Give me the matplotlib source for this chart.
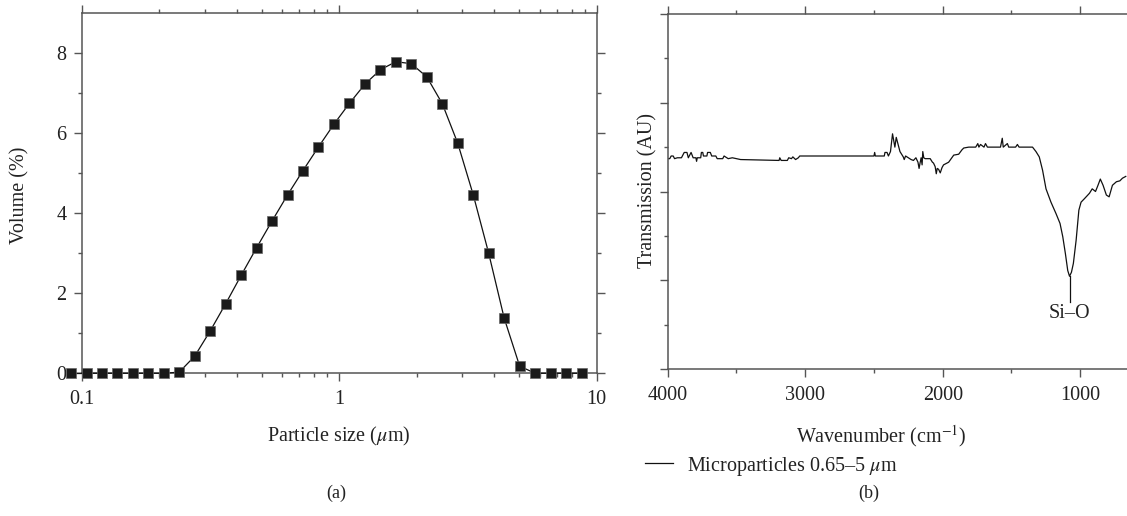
import matplotlib
matplotlib.use("Agg")
import matplotlib.pyplot as plt
from matplotlib.ticker import MultipleLocator, NullFormatter, FixedLocator

plt.rcParams['font.family'] = ['Liberation Serif', 'DejaVu Serif']
plt.rcParams['mathtext.fontset'] = 'stix'

# (a) particle size distribution
size_um = [0.0909, 0.1044, 0.1199, 0.1376, 0.158, 0.1815, 0.2084, 0.2393,
           0.2748, 0.3156, 0.3624, 0.4162, 0.4779, 0.5488, 0.6302, 0.7237,
           0.831, 0.9546, 1.096, 1.259, 1.446, 1.66, 1.906, 2.189,
           2.514, 2.887, 3.316, 3.807, 4.372, 5.021, 5.768, 6.622, 7.603, 8.733]
volume = [0, 0, 0, 0, 0, 0, 0, 0.03,
          0.43, 1.06, 1.74, 2.45, 3.14, 3.81, 4.46, 5.07,
          5.66, 6.23, 6.75, 7.23, 7.59, 7.79, 7.74, 7.41,
          6.74, 5.75, 4.46, 3.00, 1.38, 0.18, 0, 0, 0, 0]

# (b) FTIR spectrum, traced by eye
wavenumber = [4000, 3985, 3975, 3960, 3950, 3930, 3900, 3880, 3860, 3850,
              3830, 3815, 3795, 3790, 3785, 3760, 3755, 3745, 3740, 3715,
              3710, 3690, 3680, 3650, 3640, 3600, 3590, 3560, 3530, 3500,
              3470, 3200, 3190, 3185, 3175, 3130, 3120, 3100, 3090, 3070,
              3050, 3040, 2500, 2495, 2490, 2425, 2420, 2405, 2395, 2380,
              2365, 2348, 2338, 2311, 2287, 2280, 2270, 2250, 2230, 2213,
              2195, 2180, 2172, 2165, 2157, 2150, 2145, 2138, 2128, 2091,
              2075, 2067, 2055, 2047, 2040, 2030, 2018, 2005, 1994, 1957,
              1920, 1884, 1860, 1847, 1811, 1760, 1745, 1737, 1725, 1700,
              1689, 1675, 1640, 1615, 1580, 1567, 1560, 1530, 1520, 1500,
              1470, 1457, 1445, 1400, 1347, 1322, 1298, 1274, 1249, 1213,
              1176, 1147, 1127, 1108, 1091, 1078, 1064, 1050, 1030, 1010,
              994, 969, 933, 913, 889, 871, 854, 834, 810, 790,
              766, 737, 712, 693, 669]
transmission = [2.37, 2.37, 2.40, 2.40, 2.37, 2.38, 2.38, 2.44, 2.44, 2.38,
                2.44, 2.38, 2.38, 2.34, 2.38, 2.38, 2.44, 2.44, 2.40, 2.40,
                2.44, 2.44, 2.40, 2.40, 2.37, 2.37, 2.40, 2.37, 2.38, 2.37,
                2.36, 2.35, 2.35, 2.38, 2.35, 2.35, 2.38, 2.37, 2.39, 2.36,
                2.38, 2.40, 2.40, 2.44, 2.40, 2.40, 2.44, 2.44, 2.40, 2.45,
                2.65, 2.50, 2.61, 2.45, 2.39, 2.36, 2.40, 2.38, 2.36, 2.35,
                2.38, 2.33, 2.26, 2.32, 2.38, 2.30, 2.45, 2.38, 2.37, 2.37,
                2.33, 2.32, 2.28, 2.20, 2.26, 2.25, 2.21, 2.27, 2.30, 2.33,
                2.41, 2.42, 2.47, 2.49, 2.50, 2.50, 2.54, 2.50, 2.53, 2.50,
                2.54, 2.50, 2.50, 2.50, 2.50, 2.60, 2.50, 2.54, 2.50, 2.50,
                2.50, 2.53, 2.50, 2.50, 2.50, 2.45, 2.39, 2.24, 2.03, 1.88,
                1.75, 1.64, 1.49, 1.30, 1.11, 1.045, 1.09, 1.19, 1.45, 1.79,
                1.88, 1.92, 1.98, 2.03, 2.00, 2.07, 2.14, 2.07, 1.96, 1.94,
                2.07, 2.11, 2.12, 2.15, 2.17]

W, H = 1127, 516
FS = 14.5
fig = plt.figure(figsize=(W / 100, H / 100), dpi=100)

spine_col = '#555555'
text_col = '#222222'


def style_axes(ax):
    for s in ax.spines.values():
        s.set_color(spine_col)
        s.set_linewidth(1.1)
    ax.tick_params(which='both', direction='out', colors=spine_col,
                   labelcolor=text_col, labelsize=FS, width=1.0)
    ax.tick_params(which='major', length=6)
    ax.tick_params(which='minor', length=3)


# left panel
ax1 = fig.add_axes([81.7 / W, 1 - 373.3 / H, 515 / W, 360 / H])
ax1.plot(size_um, volume, color='#111111', lw=0.9, marker='s', ms=7,
         mfc='#1a1a1a', mec='#666666', mew=0.5, clip_on=False, zorder=3)
ax1.set_xscale('log')
ax1.set_xlim(0.1, 10)
ax1.set_ylim(0, 9)
ax1.set_xticks([0.1, 1, 10])
ax1.set_xticklabels(['0.1', '1', '10'])
ax1.yaxis.set_major_locator(FixedLocator([0, 2, 4, 6, 8]))
ax1.yaxis.set_minor_locator(FixedLocator([1, 3, 5, 7]))
style_axes(ax1)
ax1.tick_params(top=True, right=True, which='both')
ax1.tick_params(axis='x', pad=6)
ax1.tick_params(axis='y', pad=5)

# right panel
ax2 = fig.add_axes([667.7 / W, 1 - 369 / H, (W - 667.7) / W, 355 / H])
ax2.plot(wavenumber, transmission, color='#111111', lw=0.9,
         label=r'Microparticles 0.65–5 $\mu$m')
ax2.set_xlim(4000, 660)
ax2.set_ylim(0, 4)
ax2.xaxis.set_major_locator(FixedLocator([4000, 3000, 2000, 1000]))
ax2.xaxis.set_minor_locator(FixedLocator([3500, 2500, 1500]))
ax2.yaxis.set_major_locator(MultipleLocator(1))
ax2.yaxis.set_minor_locator(MultipleLocator(0.5))
ax2.yaxis.set_major_formatter(NullFormatter())
style_axes(ax2)
ax2.spines['right'].set_visible(False)
ax2.tick_params(top=True, which='both')
ax2.tick_params(axis='x', pad=6)

# Si-O marker
ax2.plot([1078, 1078], [1.045, 0.76], color='#111111', lw=0.9)
ax2.text(1078, 0.62, 'Si–O', ha='center', va='center', fontsize=FS,
         color=text_col)

# labels
fig.text(20 / W, 1 - 195 / H, 'Volume (%)', rotation=90, ha='center',
         va='center', fontsize=FS, color=text_col)
fig.text(339 / W, 1 - 436 / H, r'Particle size ($\mu$m)', ha='center',
         va='center', fontsize=FS, color=text_col)
fig.text(648 / W, 1 - 190 / H, 'Transmission (AU)', rotation=90, ha='center',
         va='center', fontsize=FS, color=text_col)
fig.text(881 / W, 1 - 436 / H, r'Wavenumber (cm$^{-1}$)', ha='center',
         va='center', fontsize=FS, color=text_col)
fig.text(336 / W, 1 - 493 / H, '(a)', ha='center', va='center',
         fontsize=13, color=text_col)
fig.text(869 / W, 1 - 493 / H, '(b)', ha='center', va='center',
         fontsize=13, color=text_col)

h, l = ax2.get_legend_handles_labels()
leg = fig.legend(h, l, loc='center left', bbox_to_anchor=(645 / W, 1 - 466 / H),
                 frameon=False, fontsize=FS, borderpad=0, borderaxespad=0,
                 handlelength=1.4, handletextpad=0.7)
for t in leg.get_texts():
    t.set_color(text_col)

fig.savefig('out.png', dpi=100)
